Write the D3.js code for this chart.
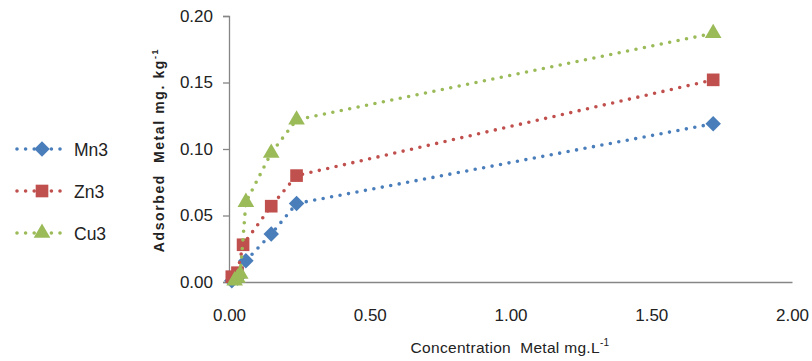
<!DOCTYPE html>
<html>
<head>
<meta charset="utf-8">
<script src="https://cdn.jsdelivr.net/npm/d3@7"></script>
<style>
  body { margin: 0; background: #fff; }
  svg { display: block; font-family: "Liberation Sans", Arial, sans-serif; }
  text { white-space: pre; }
</style>
</head>
<body>
<div id="chart"></div>
<script>
// data
const seriesNames = ['Mn3', 'Zn3', 'Cu3'];
const mn3 = [[0.01, 0.001], [0.03, 0.003], [0.06, 0.016], [0.15, 0.036], [0.24, 0.059], [1.72, 0.119]];
const zn3 = [[0.01, 0.004], [0.03, 0.007], [0.05, 0.028], [0.15, 0.057], [0.24, 0.080], [1.72, 0.152]];
const cu3 = [[0.02, 0.001], [0.03, 0.003], [0.04, 0.006], [0.06, 0.060], [0.15, 0.097], [0.24, 0.122], [1.72, 0.187]];
const xTicks = [0, 0.5, 1, 1.5, 2];
const yTicks = [0, 0.05, 0.1, 0.15, 0.2];

const width = 812, height = 361;
const margin = { top: 16, right: 20, bottom: 79, left: 229 };
const colors = { Mn3: '#4a7ebb', Zn3: '#c0504d', Cu3: '#9bbb59' };
const shapes = { Mn3: d3.symbolSquare, Zn3: d3.symbolSquare, Cu3: d3.symbolTriangle };
const sizes = { Mn3: 120, Zn3: 160, Cu3: 120 };
const rotate = { Mn3: 45, Zn3: 0, Cu3: 0 };
const data = { Mn3: mn3, Zn3: zn3, Cu3: cu3 };

const svg = d3.select('#chart').append('svg')
  .attr('width', width)
  .attr('height', height);

const x = d3.scaleLinear().domain([0, 2]).range([margin.left, 792]);
const y = d3.scaleLinear().domain([0, 0.2]).range([282, margin.top]);

// y axis
const yAxis = svg.append('g')
  .attr('transform', `translate(${margin.left},0)`)
  .call(d3.axisLeft(y).tickValues(yTicks).tickFormat(d3.format('.2f')).tickSize(6).tickPadding(10));
yAxis.select('.domain').attr('stroke', '#868686').attr('stroke-width', 1.3);
yAxis.selectAll('.tick line').attr('stroke', '#868686').attr('stroke-width', 1.3);
yAxis.selectAll('.tick text').attr('font-size', 17).attr('fill', '#222');

// x axis
const xAxis = svg.append('g')
  .attr('transform', 'translate(0,282)')
  .call(d3.axisBottom(x).tickValues(xTicks).tickFormat(d3.format('.2f')).tickSize(0).tickPadding(27));
xAxis.select('.domain').attr('stroke', '#868686').attr('stroke-width', 1.3);
xAxis.selectAll('.tick text').attr('font-size', 17).attr('fill', '#222');

// axis titles
const xt = svg.append('text')
  .attr('x', 510).attr('y', 353)
  .attr('text-anchor', 'middle')
  .attr('font-size', 15.5).attr('fill', '#222')
  .attr('letter-spacing', 0.3)
  .text('Concentration  Metal mg.L');
xt.append('tspan').attr('dy', -7).attr('font-size', 10).text('-1');

const yt = svg.append('text')
  .attr('transform', 'translate(164,150) rotate(-90)')
  .attr('text-anchor', 'middle')
  .attr('font-size', 14).attr('font-weight', 'bold').attr('fill', '#222')
  .attr('letter-spacing', 1.6)
  .text('Adsorbed  Metal mg. kg');
yt.append('tspan').attr('dy', -6).attr('font-size', 9).text('-1');

// series
const line = d3.line().x(d => x(d[0])).y(d => y(d[1]));

seriesNames.forEach(name => {
  const g = svg.append('g');
  g.append('path')
    .datum(data[name])
    .attr('d', line)
    .attr('fill', 'none')
    .attr('stroke', colors[name])
    .attr('stroke-width', 3.6)
    .attr('stroke-linecap', 'round')
    .attr('stroke-dasharray', '0,8.6');
  g.selectAll('path.m')
    .data(data[name])
    .join('path')
    .attr('class', 'm')
    .attr('transform', d => `translate(${x(d[0])},${y(d[1])}) rotate(${rotate[name]})`)
    .attr('d', d3.symbol(shapes[name], sizes[name]))
    .attr('fill', colors[name]);
});

// legend
const legend = svg.append('g');
seriesNames.forEach((name, i) => {
  const ly = 149 + i * 42;
  const item = legend.append('g');
  item.append('line')
    .attr('x1', 17).attr('x2', 63).attr('y1', ly).attr('y2', ly)
    .attr('stroke', colors[name])
    .attr('stroke-width', 3.6)
    .attr('stroke-linecap', 'round')
    .attr('stroke-dasharray', '0,8.6');
  item.append('path')
    .attr('transform', `translate(42,${ly}) rotate(${rotate[name]})`)
    .attr('d', d3.symbol(shapes[name], sizes[name]))
    .attr('fill', colors[name]);
  item.append('text')
    .attr('x', 74).attr('y', ly + 6.5)
    .attr('font-size', 17.5).attr('fill', '#222')
    .text(name);
});
</script>
</body>
</html>
